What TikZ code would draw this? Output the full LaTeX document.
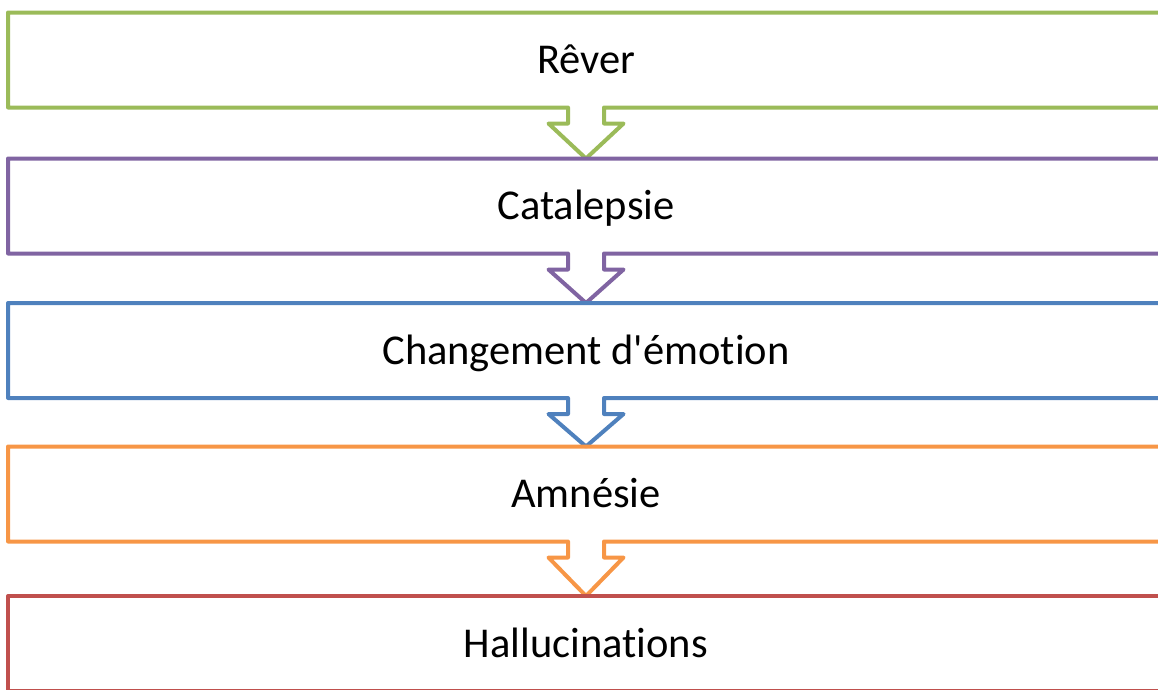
\documentclass[tikz,border=0pt]{standalone}
\usepackage{fontspec}
\setmainfont[Ligatures={NoCommon}]{Carlito}
\usetikzlibrary{calc}
\definecolor{stepgreen}{HTML}{9BBB59}
\definecolor{steppurple}{HTML}{8064A2}
\definecolor{stepblue}{HTML}{4F81BD}
\definecolor{steporange}{HTML}{F79646}
\definecolor{stepred}{HTML}{C0504D}
\tikzset{
  stagebox/.style={rectangle, inner sep=0pt, outer sep=0pt,
    minimum width=1156pt, minimum height=95pt,
    text height=33pt, text depth=6pt,
    font=\fontsize{42.5}{50}\selectfont},
  outline/.style={draw=#1, line width=4pt, line join=round}
}
% outline of a stage box whose bottom edge opens into a hollow arrow
% pointing at the top of the next stage
\newcommand{\stagearrow}[3]{%
  \draw[outline=#3]
    ($(#1.south)+(-18,0)$) -- (#1.south west) -- (#1.north west)
    -- (#1.north east) -- (#1.south east) -- ($(#1.south)+(18,0)$)
    -- ++(0,16) -- ($(#1.south)+(37.5,16)$) -- (#2.north)
    -- ($(#1.south)+(-37.5,16)$) -- ($(#1.south)+(-18,16)$) -- cycle;}
\begin{document}
\begin{tikzpicture}[x=1pt, y=-1pt]
  \clip (0,0) rectangle (1158,689);
  \node[stagebox] (rever) at (586,60) {Rêver};
  \node[stagebox] (catalepsie) at (586,206) {Catalepsie};
  \node[stagebox] (emotion) at (586,350.5) {Changement d\textquotesingle émotion};
  \node[stagebox] (amnesie) at (586,494) {Amnésie};
  \node[stagebox] (halluc) at (586,643.5) {Hallucinations};
  \stagearrow{rever}{catalepsie}{stepgreen}
  \stagearrow{catalepsie}{emotion}{steppurple}
  \stagearrow{emotion}{amnesie}{stepblue}
  \stagearrow{amnesie}{halluc}{steporange}
  \draw[outline=stepred] (halluc.south west) rectangle (halluc.north east);
\end{tikzpicture}
\end{document}
